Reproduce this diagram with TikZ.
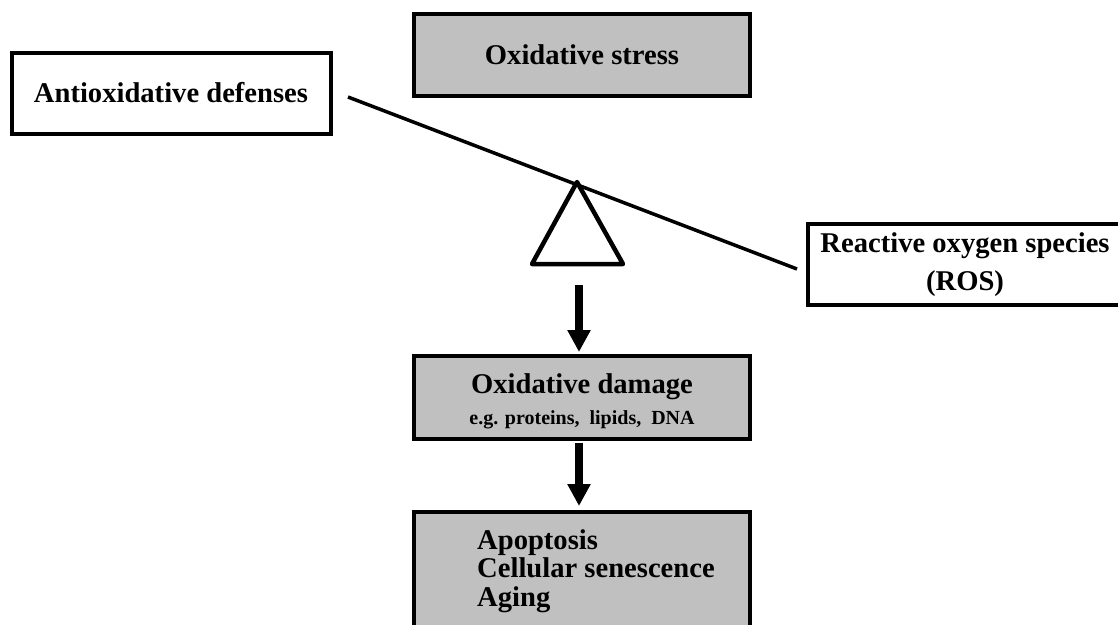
\documentclass[tikz,border=0pt]{standalone}
\usepackage{fontspec}
\setmainfont{Liberation Serif}
\usetikzlibrary{arrows.meta}
\definecolor{boxgrey}{RGB}{192,192,192}

\begin{document}
\begin{tikzpicture}[
    x=1pt,y=-1pt,
    every node/.style={font=\bfseries\fontsize{28.6}{28.5}\selectfont},
    greybox/.style={draw,line width=4pt,fill=boxgrey,minimum width=336pt,
        minimum height=82pt,inner sep=0pt},
    whitebox/.style={draw,line width=4pt,fill=white,minimum height=81pt,
        inner sep=0pt},
    flow/.style={line width=8pt,-{Triangle[width=22pt,length=22pt]}}]
    \def\egfont{\fontsize{20}{22}\selectfont}

    \useasboundingbox (0,0) rectangle (1118,624);
    \clip (0,0) rectangle (1118,624);

    % balance
    \coordinate (beamL) at (348,97);
    \coordinate (beamR) at (797,269);
    \coordinate (apex) at (577,182);
    \coordinate (pivot) at (579,285);
    \draw[line width=3.5pt] (beamL) -- (beamR);
    \draw[line width=4.5pt,line join=round]
        (apex) -- (532,264) -- (623,264) -- cycle;

    % boxes
    \node[greybox] (stress) at (582,55) {Oxidative stress};
    \node[whitebox,minimum width=319pt] (defense) at (171,93)
        {Antioxidative defenses};
    \node[whitebox,minimum width=314pt,align=center] (ros) at (965,264.5)
        {Reactive oxygen species\\[10pt](ROS)};
    \node[greybox,minimum height=83pt] (damage) at (582,397.5) {};
    \node[align=center,inner sep=0pt] (damagetext) at ([yshift=-4pt]damage.center)
        {Oxidative damage\\[2pt]{\egfont e.g. proteins,\ \ lipids,\ \ DNA}};
    \node[greybox,minimum height=124pt] (outcome) at (582,574) {};
    \node[anchor=north west,align=left,inner sep=0pt] (outcometext) at (477,529)
        {Apoptosis\\Cellular senescence\\Aging};

    % arrows
    \draw[flow,shorten >=2pt] (pivot) -- (pivot |- damage.north);
    \draw[flow,shorten <=2pt,shorten >=4pt]
        (pivot |- damage.south) -- (pivot |- outcome.north);
\end{tikzpicture}
\end{document}
